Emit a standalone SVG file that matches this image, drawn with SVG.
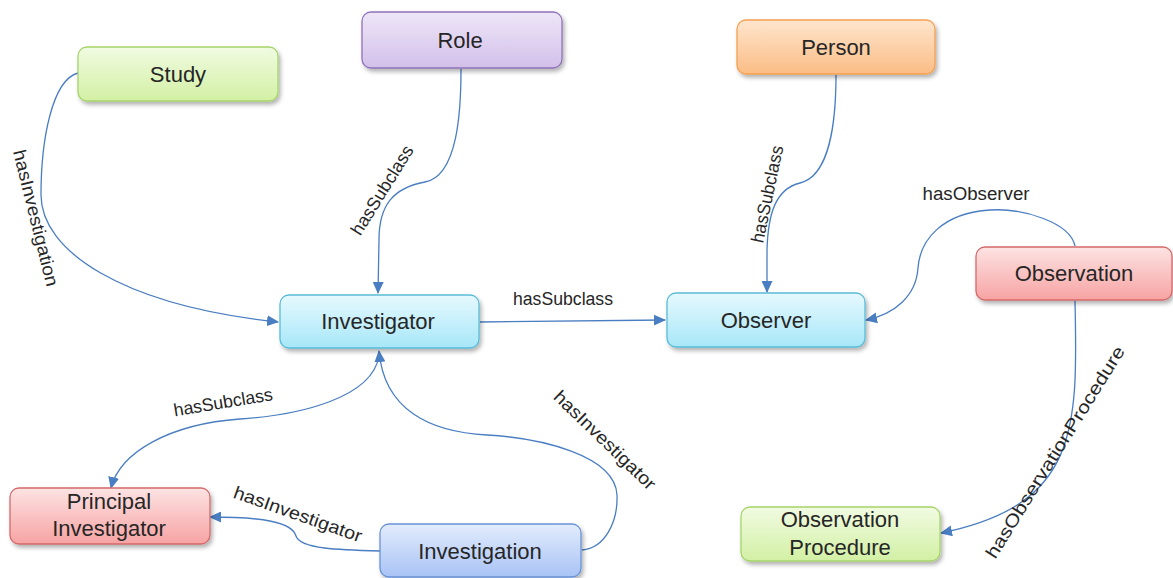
<svg xmlns="http://www.w3.org/2000/svg" width="1173" height="578" viewBox="0 0 1173 578">
  <defs>
    <style>
      .node rect { stroke-width: 1.3; filter: url(#shadow); }
      .node text { font-family: "Liberation Sans", Arial, sans-serif; font-size: 22px; fill: #262626; text-anchor: middle; }
      .edge { fill: none; stroke: #4a7ec2; stroke-width: 1.3; marker-end: url(#arrow); }
      .lbl { font-family: "Liberation Sans", Arial, sans-serif; font-size: 18px; fill: #262626; text-anchor: middle; }
    </style>
    <filter id="shadow" x="-10%" y="-20%" width="125%" height="160%">
      <feDropShadow dx="2" dy="3" stdDeviation="2" flood-color="#000" flood-opacity="0.3"/>
    </filter>
    <marker id="arrow" markerWidth="13" markerHeight="11" refX="11" refY="5.5" orient="auto" markerUnits="userSpaceOnUse">
      <path d="M0,0 L12,5.5 L0,11 Z" fill="#4a7ec2"/>
    </marker>
    <linearGradient id="gGreen" x1="0" y1="0" x2="0" y2="1">
      <stop offset="0" stop-color="#f1fbe2"/>
      <stop offset="1" stop-color="#d2f0a4"/>
    </linearGradient>
    <linearGradient id="gPurple" x1="0" y1="0" x2="0" y2="1">
      <stop offset="0" stop-color="#eee6f7"/>
      <stop offset="1" stop-color="#d3c0ea"/>
    </linearGradient>
    <linearGradient id="gOrange" x1="0" y1="0" x2="0" y2="1">
      <stop offset="0" stop-color="#fee5cd"/>
      <stop offset="1" stop-color="#fbbd85"/>
    </linearGradient>
    <linearGradient id="gCyan" x1="0" y1="0" x2="0" y2="1">
      <stop offset="0" stop-color="#e6f9fe"/>
      <stop offset="1" stop-color="#a7e7f8"/>
    </linearGradient>
    <linearGradient id="gRed" x1="0" y1="0" x2="0" y2="1">
      <stop offset="0" stop-color="#fde3e3"/>
      <stop offset="1" stop-color="#f7a3a3"/>
    </linearGradient>
    <linearGradient id="gBlue" x1="0" y1="0" x2="0" y2="1">
      <stop offset="0" stop-color="#e3ecfd"/>
      <stop offset="1" stop-color="#a8c3f5"/>
    </linearGradient>
  </defs>

  <rect width="1173" height="578" fill="#ffffff"/>

  <!-- connectors -->
  <g id="connectors">
    <path class="edge" d="M78,73 C52,80 41,140 41,195 C41,250 120,305 278,322"/>
    <path class="edge" d="M461,69 C461,110 458,176 425,182 C393,188 379,205 379,240 L378,293"/>
    <path class="edge" d="M836,75 C836,120 830,176 800,183 C775,189 768,215 767,250 L767,292"/>
    <path class="edge" d="M480,322 L665,320"/>
    <path class="edge" d="M1075,246 C1070,222 1022,208 990,210 C942,213 920,240 918,268 C916,296 895,314 866,320"/>
    <path class="edge" d="M1075,301 C1078,430 1078,505 941,533"/>
    <path class="edge" d="M582,550 C605,548 618,522 617,495 C615,455 540,438 487,435 C430,432 384,410 379,351"/>
    <path class="edge" d="M379,356 C372,398 300,415 240,419 C170,424 120,452 111,488"/>
    <path class="edge" d="M380,551 C340,550 300,549 296,536 C292,522 262,517 210,517"/>
  </g>

  <!-- connector labels (positioned at their visual centre) -->
  <g id="labels">
    <text class="lbl" dy="0.35em" textLength="140" lengthAdjust="spacingAndGlyphs" transform="translate(36,218) rotate(76)">hasInvestigation</text>
    <text class="lbl" dy="0.35em" textLength="102" lengthAdjust="spacingAndGlyphs" transform="translate(382,190) rotate(-58)">hasSubclass</text>
    <text class="lbl" dy="0.35em" textLength="99" lengthAdjust="spacingAndGlyphs" transform="translate(767,194) rotate(-78)">hasSubclass</text>
    <text class="lbl" dy="0.35em" textLength="100" lengthAdjust="spacingAndGlyphs" transform="translate(563,299)">hasSubclass</text>
    <text class="lbl" dy="0.35em" textLength="107" lengthAdjust="spacingAndGlyphs" transform="translate(976,194)">hasObserver</text>
    <text class="lbl" dy="0.35em" textLength="246" lengthAdjust="spacingAndGlyphs" transform="translate(1055,452) rotate(-58)">hasObservationProcedure</text>
    <text class="lbl" dy="0.35em" textLength="134" lengthAdjust="spacingAndGlyphs" transform="translate(605,440) rotate(44)">hasInvestigator</text>
    <text class="lbl" dy="0.35em" textLength="100" lengthAdjust="spacingAndGlyphs" transform="translate(223,402) rotate(-9.5)">hasSubclass</text>
    <text class="lbl" dy="0.35em" textLength="135" lengthAdjust="spacingAndGlyphs" transform="translate(298,514) rotate(19.5)">hasInvestigator</text>
  </g>

  <!-- nodes -->
  <g id="study" class="node">
    <rect x="78" y="47" width="200" height="54" rx="9" fill="url(#gGreen)" stroke="#a6d46a"/>
    <text x="178" y="82">Study</text>
  </g>
  <g id="role" class="node">
    <rect x="362" y="12" width="200" height="56" rx="9" fill="url(#gPurple)" stroke="#8f72bb"/>
    <text x="460" y="48">Role</text>
  </g>
  <g id="person" class="node">
    <rect x="737" y="20" width="198" height="54" rx="9" fill="url(#gOrange)" stroke="#f5a050"/>
    <text x="836" y="55">Person</text>
  </g>
  <g id="investigator" class="node">
    <rect x="280" y="295" width="199" height="53" rx="9" fill="url(#gCyan)" stroke="#58bcd8"/>
    <text x="378" y="329">Investigator</text>
  </g>
  <g id="observer" class="node">
    <rect x="667" y="293" width="198" height="54" rx="9" fill="url(#gCyan)" stroke="#58bcd8"/>
    <text x="766" y="328">Observer</text>
  </g>
  <g id="observation" class="node">
    <rect x="976" y="247" width="196" height="53" rx="9" fill="url(#gRed)" stroke="#d46a6a"/>
    <text x="1074" y="281">Observation</text>
  </g>
  <g id="principal-investigator" class="node">
    <rect x="10" y="488" width="200" height="56" rx="9" fill="url(#gRed)" stroke="#d46a6a"/>
    <text x="109" y="509">Principal</text>
    <text x="109" y="536">Investigator</text>
  </g>
  <g id="investigation" class="node">
    <rect x="380" y="524" width="201" height="53" rx="9" fill="url(#gBlue)" stroke="#6a92d8"/>
    <text x="480" y="559">Investigation</text>
  </g>
  <g id="observation-procedure" class="node">
    <rect x="741" y="507" width="199" height="54" rx="9" fill="url(#gGreen)" stroke="#a6d46a"/>
    <text x="840" y="527">Observation</text>
    <text x="840" y="555">Procedure</text>
  </g>
</svg>
